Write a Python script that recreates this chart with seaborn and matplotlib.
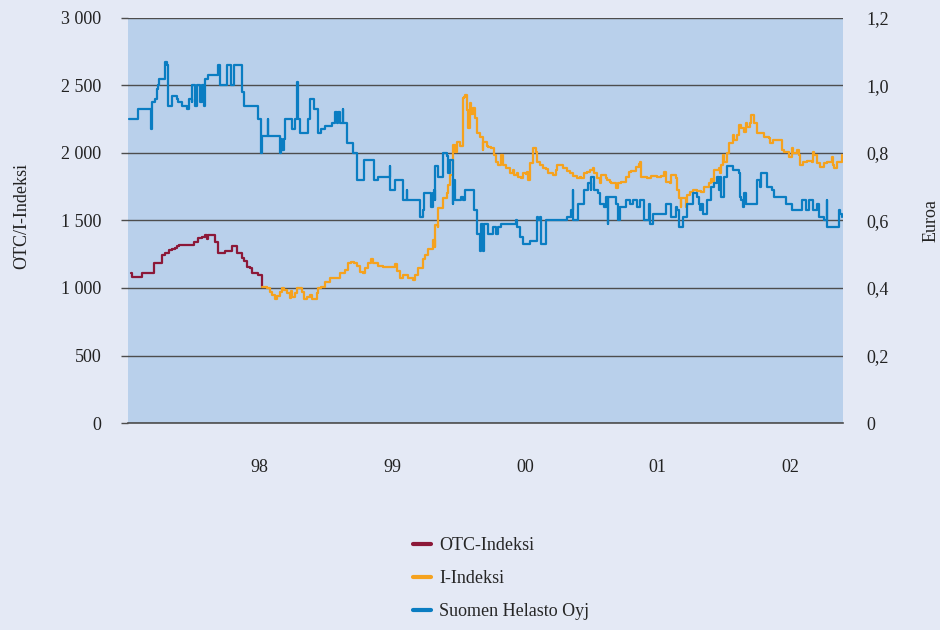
import matplotlib
matplotlib.use("Agg")
import matplotlib.pyplot as plt
import seaborn as sns
import pandas as pd

# --- data (x in decimal years) ---
otc_year = [1997.52, 1997.53, 1997.59, 1997.60, 1997.67, 1997.68, 1997.74, 1997.74, 1997.76, 1997.78,
            1997.79, 1997.81, 1997.83, 1997.84, 1997.86, 1997.95, 1997.96, 1997.98, 1997.99, 1998.02,
            1998.04, 1998.05, 1998.06, 1998.07, 1998.11, 1998.11, 1998.13, 1998.18, 1998.23, 1998.26,
            1998.26, 1998.28, 1998.30, 1998.31, 1998.33, 1998.35, 1998.37, 1998.37, 1998.40, 1998.41,
            1998.44]
otc_val = [1110, 1080, 1080, 1110, 1110, 1185, 1185, 1245, 1260, 1260,
           1280, 1290, 1295, 1310, 1320, 1320, 1340, 1340, 1370, 1378,
           1390, 1365, 1390, 1393, 1393, 1340, 1260, 1275, 1310, 1310,
           1260, 1260, 1222, 1200, 1156, 1150, 1133, 1111, 1111, 1100,
           1005]

i_year = [1998.44, 1998.47, 1998.49, 1998.51, 1998.53, 1998.54, 1998.56, 1998.58, 1998.59, 1998.61,
          1998.63, 1998.64, 1998.65, 1998.67, 1998.68, 1998.71, 1998.72, 1998.73, 1998.75, 1998.77,
          1998.79, 1998.82, 1998.83, 1998.85, 1998.88, 1998.90, 1998.91, 1998.97, 1998.98, 1999.02,
          1999.04, 1999.06, 1999.08, 1999.10, 1999.12, 1999.14, 1999.16, 1999.18, 1999.20, 1999.21,
          1999.25, 1999.28, 1999.35, 1999.37, 1999.38, 1999.40, 1999.42, 1999.46, 1999.49, 1999.51,
          1999.53, 1999.56, 1999.58, 1999.60, 1999.63, 1999.65, 1999.65, 1999.67, 1999.67, 1999.69,
          1999.70, 1999.73, 1999.74, 1999.75, 1999.77, 1999.77, 1999.79, 1999.80, 1999.82, 1999.84,
          1999.84, 1999.85, 1999.86, 1999.87, 1999.88, 1999.89, 1999.90, 1999.91, 1999.93, 1999.94,
          1999.96, 1999.98, 1999.98, 2000.01, 2000.02, 2000.04, 2000.06, 2000.07, 2000.09, 2000.11,
          2000.12, 2000.14, 2000.16, 2000.17, 2000.19, 2000.20, 2000.22, 2000.23, 2000.25, 2000.26,
          2000.28, 2000.29, 2000.30, 2000.31, 2000.32, 2000.33, 2000.35, 2000.36, 2000.38, 2000.40,
          2000.42, 2000.44, 2000.47, 2000.49, 2000.50, 2000.53, 2000.54, 2000.57, 2000.59, 2000.61,
          2000.64, 2000.66, 2000.67, 2000.69, 2000.71, 2000.73, 2000.75, 2000.76, 2000.78, 2000.80,
          2000.81, 2000.84, 2000.85, 2000.87, 2000.88, 2000.91, 2000.93, 2000.95, 2000.98, 2001.00,
          2001.02, 2001.05, 2001.07, 2001.08, 2001.09, 2001.13, 2001.16, 2001.20, 2001.23, 2001.25,
          2001.26, 2001.29, 2001.30, 2001.33, 2001.34, 2001.35, 2001.37, 2001.37, 2001.40, 2001.41,
          2001.43, 2001.45, 2001.48, 2001.51, 2001.53, 2001.56, 2001.58, 2001.59, 2001.60, 2001.63,
          2001.64, 2001.65, 2001.66, 2001.67, 2001.69, 2001.70, 2001.72, 2001.73, 2001.74, 2001.76,
          2001.77, 2001.79, 2001.81, 2001.82, 2001.83, 2001.85, 2001.86, 2001.88, 2001.90, 2001.93,
          2001.95, 2001.98, 2001.99, 2002.01, 2002.07, 2002.07, 2002.09, 2002.12, 2002.14, 2002.15,
          2002.18, 2002.19, 2002.20, 2002.22, 2002.25, 2002.28, 2002.29, 2002.30, 2002.32, 2002.34,
          2002.37, 2002.39, 2002.42, 2002.43, 2002.44, 2002.46, 2002.48, 2002.49]
i_val = [1005, 1000, 970, 945, 918, 941, 970, 1000, 985, 963,
         926, 975, 935, 960, 1000, 1000, 970, 918, 935, 948,
         918, 963, 1000, 1010, 1044, 1044, 1074, 1074, 1111, 1133,
         1185, 1193, 1185, 1165, 1119, 1111, 1148, 1185, 1215, 1185,
         1160, 1156, 1156, 1178, 1126, 1074, 1096, 1074, 1059, 1096,
         1148, 1215, 1244, 1290, 1356, 1304, 1467, 1450, 1593, 1593,
         1667, 1704, 1763, 1837, 1985, 2059, 2007, 2081, 2050, 2118,
         2407, 2415, 2430, 2320, 2185, 2370, 2290, 2333, 2259, 2148,
         2118, 2022, 2081, 2050, 2044, 2037, 1985, 1933, 1911, 1985,
         1911, 1889, 1889, 1852, 1874, 1837, 1852, 1822, 1815, 1852,
         1845, 1859, 1800, 1926, 1926, 2037, 2007, 1933, 1911, 1889,
         1880, 1852, 1837, 1874, 1911, 1911, 1889, 1867, 1852, 1830,
         1815, 1822, 1815, 1852, 1859, 1874, 1889, 1852, 1815, 1778,
         1837, 1815, 1800, 1785, 1778, 1741, 1778, 1785, 1822, 1859,
         1867, 1896, 1919, 1933, 1822, 1815, 1830, 1822, 1830, 1859,
         1785, 1778, 1837, 1815, 1726, 1667, 1600, 1667, 1600, 1689,
         1711, 1726, 1719, 1711, 1748, 1778, 1807, 1785, 1874, 1889,
         1852, 1911, 1985, 1933, 2000, 2074, 2074, 2133, 2096, 2133,
         2207, 2185, 2155, 2222, 2192, 2222, 2281, 2222, 2148, 2148,
         2118, 2111, 2074, 2096, 2096, 2022, 2007, 1970, 2037, 2000,
         2022, 1985, 1911, 1933, 1941, 1933, 2007, 1985, 1926, 1896,
         1926, 1933, 1970, 1911, 1889, 1933, 1933, 1985]

shl_year = [1997.51, 1997.57, 1997.57, 1997.63, 1997.66, 1997.67, 1997.69, 1997.70, 1997.71, 1997.72,
            1997.74, 1997.76, 1997.77, 1997.78, 1997.81, 1997.84, 1997.85, 1997.88, 1997.91, 1997.93,
            1997.95, 1997.95, 1997.97, 1997.98, 1998.00, 1998.02, 1998.03, 1998.04, 1998.06, 1998.11,
            1998.13, 1998.14, 1998.18, 1998.19, 1998.21, 1998.22, 1998.23, 1998.24, 1998.30, 1998.30,
            1998.31, 1998.41, 1998.41, 1998.43, 1998.43, 1998.44, 1998.47, 1998.48, 1998.48, 1998.55,
            1998.56, 1998.57, 1998.58, 1998.59, 1998.60, 1998.65, 1998.65, 1998.67, 1998.68, 1998.69,
            1998.70, 1998.75, 1998.76, 1998.77, 1998.79, 1998.80, 1998.82, 1998.83, 1998.85, 1998.88,
            1998.92, 1998.93, 1998.95, 1998.96, 1998.97, 1998.98, 1999.00, 1999.00, 1999.02, 1999.03,
            1999.07, 1999.07, 1999.10, 1999.14, 1999.15, 1999.22, 1999.22, 1999.25, 1999.32, 1999.33,
            1999.33, 1999.37, 1999.37, 1999.42, 1999.42, 1999.45, 1999.45, 1999.45, 1999.54, 1999.54,
            1999.56, 1999.57, 1999.62, 1999.62, 1999.63, 1999.64, 1999.65, 1999.65, 1999.67, 1999.67,
            1999.70, 1999.72, 1999.73, 1999.74, 1999.75, 1999.77, 1999.77, 1999.79, 1999.79, 1999.82,
            1999.83, 1999.84, 1999.86, 1999.91, 1999.92, 1999.94, 1999.94, 1999.96, 1999.96, 1999.97,
            1999.98, 1999.99, 2000.01, 2000.02, 2000.05, 2000.07, 2000.09, 2000.11, 2000.21, 2000.22,
            2000.24, 2000.26, 2000.26, 2000.31, 2000.31, 2000.36, 2000.36, 2000.37, 2000.38, 2000.39,
            2000.39, 2000.41, 2000.42, 2000.56, 2000.57, 2000.59, 2000.60, 2000.61, 2000.61, 2000.64,
            2000.65, 2000.68, 2000.69, 2000.72, 2000.72, 2000.74, 2000.74, 2000.74, 2000.76, 2000.76,
            2000.79, 2000.80, 2000.83, 2000.83, 2000.84, 2000.86, 2000.86, 2000.90, 2000.91, 2000.93,
            2000.93, 2000.94, 2000.98, 2001.00, 2001.01, 2001.03, 2001.06, 2001.08, 2001.10, 2001.11,
            2001.13, 2001.14, 2001.15, 2001.15, 2001.17, 2001.17, 2001.22, 2001.26, 2001.26, 2001.30,
            2001.30, 2001.33, 2001.34, 2001.35, 2001.37, 2001.38, 2001.40, 2001.41, 2001.44, 2001.45,
            2001.48, 2001.49, 2001.50, 2001.51, 2001.52, 2001.55, 2001.55, 2001.58, 2001.58, 2001.59,
            2001.60, 2001.62, 2001.63, 2001.64, 2001.64, 2001.65, 2001.67, 2001.67, 2001.69, 2001.71,
            2001.73, 2001.77, 2001.78, 2001.79, 2001.80, 2001.81, 2001.81, 2001.82, 2001.88, 2001.90,
            2001.90, 2001.92, 2001.92, 2001.93, 2001.97, 2001.97, 2002.00, 2002.00, 2002.02, 2002.02,
            2002.09, 2002.10, 2002.12, 2002.14, 2002.21, 2002.21, 2002.24, 2002.24, 2002.26, 2002.26,
            2002.29, 2002.29, 2002.31, 2002.32, 2002.33, 2002.37, 2002.37, 2002.39, 2002.39, 2002.39,
            2002.44, 2002.47, 2002.48, 2002.49]
shl_eur = [0.90, 0.90, 0.93, 0.93, 0.87, 0.95, 0.96, 0.99, 1.00, 1.02,
           1.02, 1.07, 1.06, 0.94, 0.97, 0.96, 0.95, 0.94, 0.93, 0.96,
           0.95, 1.00, 0.94, 1.00, 0.95, 1.00, 0.94, 1.02, 1.03, 1.03,
           1.06, 1.00, 1.00, 1.06, 1.06, 1.00, 1.00, 1.06, 1.06, 0.98,
           0.94, 0.94, 0.90, 0.90, 0.80, 0.85, 0.85, 0.90, 0.85, 0.85,
           0.80, 0.84, 0.81, 0.84, 0.90, 0.90, 0.87, 0.90, 1.01, 0.90,
           0.86, 0.86, 0.90, 0.96, 0.96, 0.93, 0.93, 0.86, 0.87, 0.88,
           0.88, 0.89, 0.92, 0.89, 0.92, 0.89, 0.93, 0.89, 0.89, 0.83,
           0.83, 0.80, 0.72, 0.72, 0.78, 0.78, 0.72, 0.73, 0.73, 0.76,
           0.69, 0.69, 0.72, 0.72, 0.66, 0.66, 0.69, 0.66, 0.66, 0.61,
           0.63, 0.68, 0.68, 0.64, 0.68, 0.69, 0.66, 0.76, 0.76, 0.73,
           0.80, 0.80, 0.79, 0.74, 0.78, 0.65, 0.72, 0.72, 0.66, 0.66,
           0.67, 0.66, 0.69, 0.69, 0.63, 0.63, 0.56, 0.56, 0.51, 0.59,
           0.51, 0.59, 0.59, 0.56, 0.58, 0.56, 0.58, 0.59, 0.60, 0.58,
           0.55, 0.55, 0.53, 0.53, 0.54, 0.54, 0.61, 0.60, 0.61, 0.61,
           0.53, 0.53, 0.60, 0.60, 0.61, 0.61, 0.63, 0.69, 0.60, 0.60,
           0.65, 0.65, 0.69, 0.69, 0.71, 0.71, 0.69, 0.73, 0.73, 0.69,
           0.68, 0.65, 0.65, 0.64, 0.67, 0.59, 0.67, 0.67, 0.65, 0.65,
           0.60, 0.64, 0.66, 0.66, 0.65, 0.66, 0.64, 0.66, 0.66, 0.60,
           0.60, 0.65, 0.65, 0.59, 0.59, 0.62, 0.62, 0.63, 0.65, 0.65,
           0.61, 0.64, 0.63, 0.58, 0.58, 0.61, 0.61, 0.65, 0.65, 0.68,
           0.67, 0.65, 0.63, 0.65, 0.62, 0.62, 0.66, 0.66, 0.70, 0.70,
           0.71, 0.73, 0.69, 0.69, 0.73, 0.67, 0.67, 0.73, 0.76, 0.76,
           0.75, 0.74, 0.67, 0.66, 0.64, 0.65, 0.68, 0.65, 0.65, 0.67,
           0.72, 0.72, 0.70, 0.74, 0.74, 0.70, 0.70, 0.69, 0.69, 0.67,
           0.67, 0.65, 0.65, 0.63, 0.63, 0.66, 0.66, 0.63, 0.63, 0.66,
           0.66, 0.63, 0.63, 0.65, 0.61, 0.61, 0.60, 0.60, 0.66, 0.58,
           0.58, 0.63, 0.62, 0.61]

quarter_ticks = [1997.5 + 0.25 * i for i in range(21)]
year_pos = [1998.42, 1999.35, 2000.28, 2001.20, 2002.13]
year_labels = ["98", "99", "00", "01", "02"]
left_ticks = [0, 500, 1000, 1500, 2000, 2500, 3000]
left_labels = ["0", "500", "1 000", "1 500", "2 000", "2 500", "3 000"]
right_ticks = [0, 0.2, 0.4, 0.6, 0.8, 1.0, 1.2]
right_labels = ["0", "0,2", "0,4", "0,6", "0,8", "1,0", "1,2"]

c_otc = "#8c1838"
c_i = "#f5a21e"
c_shl = "#0a7dc2"
bg_out = "#e4e9f5"
bg_in = "#b9d0eb"
grid_c = "#4d4d4d"
txt_c = "#222222"

sns.set_style("white")
plt.rcParams["font.family"] = ["Liberation Serif", "DejaVu Serif"]
plt.rcParams["font.size"] = 13

fig = plt.figure(figsize=(9.4, 6.3), dpi=100, facecolor=bg_out)
ax = fig.add_axes([128 / 940, 1 - 423 / 630, 715 / 940, 405 / 630])
ax.set_facecolor(bg_in)
ax2 = ax.twinx()

otc = pd.DataFrame({"year": otc_year, "val": otc_val})
idx = pd.DataFrame({"year": i_year, "val": i_val})
shl = pd.DataFrame({"year": shl_year, "eur": shl_eur})

sns.lineplot(data=otc, x="year", y="val", ax=ax, color=c_otc, lw=1.6, drawstyle="steps-post",
             estimator=None, sort=False, label="OTC-Indeksi", legend=False)
sns.lineplot(data=idx, x="year", y="val", ax=ax, color=c_i, lw=1.6, drawstyle="steps-post",
             estimator=None, sort=False, label="I-Indeksi", legend=False)
sns.lineplot(data=shl, x="year", y="eur", ax=ax2, color=c_shl, lw=1.6, drawstyle="steps-post",
             estimator=None, sort=False, label="Suomen Helasto Oyj", legend=False)

ax.set_xlim(1997.5, 2002.5)
ax.set_ylim(0, 3000)
ax2.set_ylim(0, 1.2)

for a in (ax, ax2):
    for s in ("top", "left", "right"):
        a.spines[s].set_visible(False)
ax2.spines["bottom"].set_visible(False)
ax.spines["bottom"].set_color(grid_c)
ax.spines["bottom"].set_linewidth(1.2)

ax.set_yticks(left_ticks)
ax.set_yticklabels(left_labels)
ax.tick_params(axis="y", length=5, width=1.0, color=grid_c, pad=14, labelsize=13, colors=txt_c)
ax.yaxis.grid(True, color=grid_c, lw=1.0)
ax.set_axisbelow(True)

ax2.set_yticks(right_ticks)
ax2.set_yticklabels(right_labels)
ax2.tick_params(axis="y", length=0, pad=17, labelsize=13, colors=txt_c)
ax2.grid(False)

ax.set_xticks(year_pos)
ax.set_xticklabels(year_labels)
ax.set_xticks(quarter_ticks, minor=True)
ax.tick_params(axis="x", which="major", length=0, pad=26, labelsize=13, colors=txt_c)
ax.tick_params(axis="x", which="minor", length=7, width=1.0, color=txt_c, direction="out")
ax.xaxis.grid(False)

ax.set_xlabel("")
ax.set_ylabel("OTC/I-Indeksi", fontsize=13, color=txt_c)
ax.yaxis.set_label_coords(-0.137, 0.51)
ax2.set_ylabel("Euroa", fontsize=13, color=txt_c)
ax2.yaxis.set_label_coords(1.111, 0.5)

h1, l1 = ax.get_legend_handles_labels()
h2, l2 = ax2.get_legend_handles_labels()
leg = fig.legend(h1 + h2, l1 + l2, loc="upper left", bbox_to_anchor=(397 / 940, 1 - 521 / 630),
                 frameon=False, fontsize=13, handlelength=1.0, handletextpad=0.45,
                 labelspacing=0.88)
for line in leg.get_lines():
    line.set_linewidth(3)

fig.savefig("out.png", dpi=100, facecolor=bg_out)
